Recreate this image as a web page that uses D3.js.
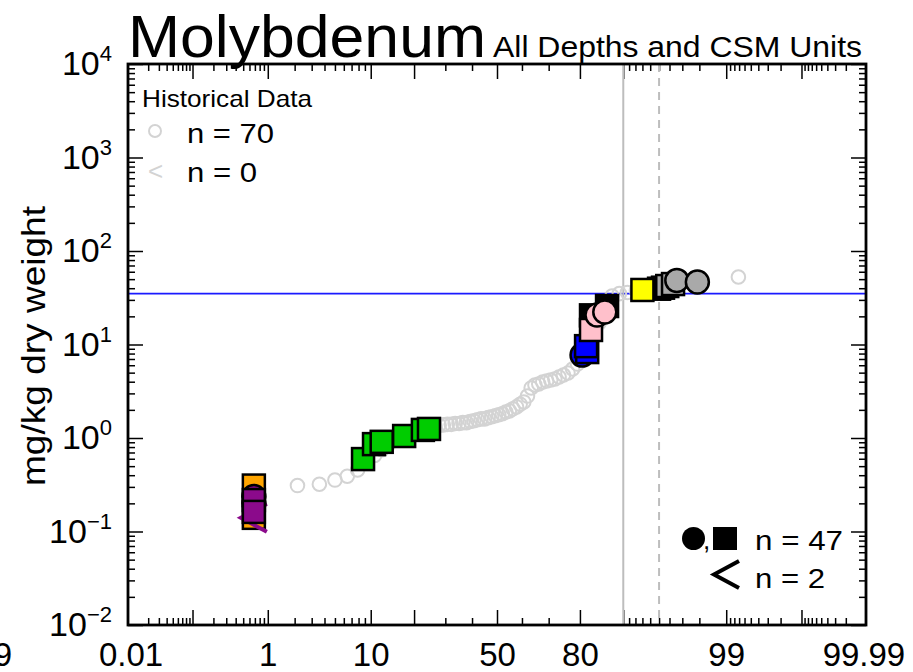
<!DOCTYPE html>
<meta charset="utf-8">
<style>
    body { margin: 0; background: #fff; }
    text { font-family: "Liberation Sans", Arial, Helvetica, sans-serif; }
    .axis path { display: none; }
    .axis line { stroke: #000; stroke-width: 1.5; }
</style>
<svg width="913" height="672"></svg>
<script src="https://cdn.jsdelivr.net/npm/d3@7"></script>
<script>

    // historical data, sorted (mg/kg), plotted at Hazen positions
    var histValues = [0.25, 0.31, 0.32, 0.355, 0.39, 0.455, 0.55, 0.65, 0.75, 0.85,
        0.95, 1.0, 1.05, 1.1, 1.15, 1.2, 1.25, 1.3, 1.34, 1.37,
        1.38, 1.40, 1.40, 1.43, 1.43, 1.46, 1.46, 1.50, 1.53, 1.57,
        1.6, 1.6, 1.65, 1.69, 1.73, 1.77, 1.82, 1.9, 1.95, 2.05,
        2.15, 2.3, 2.43, 2.81, 3.43, 3.69, 3.78, 3.97, 4.07, 4.17,
        4.27, 4.49, 4.72, 4.96, 5.47, 6.18, 7, 8, 12, 17,
        26, 33, 35, 36, 38, 40, 42, 44, 47, 52.7];

    // new samples: percentile, value, marker, colour
    var newPct    = [0.68, 0.68, 0.68, 0.68, 0.68, 0.68, 0.68,
                     8.7, 10.6, 12.1, 17.3, 22.6, 24.5,
                     80.6, 82.0, 81.7,
                     83.0, 86.8, 83.0, 84.5, 86.3,
                     95.0, 95.4, 93.0, 95.8, 96.3, 96.6, 97.9];
    var newValues = [0.31, 0.14, 0.14, 0.237, 0.20, 0.217, 0.162,
                     0.595, 0.86, 0.91, 1.05, 1.22, 1.25,
                     7.7, 8.3, 9.6,
                     20.5, 25.8, 14.3, 20.7, 22.3,
                     39.5, 40.5, 38.3, 42.2, 44.3, 48.5, 46.6];
    var newShape  = ["sq", "sq", "lt", "ci", "ci", "sq", "sq",
                     "sq", "sq", "sq", "sq", "sq", "sq",
                     "ci", "sq", "sq",
                     "sq", "sq", "sq", "ci", "ci",
                     "sq", "sq", "sq", "sq", "sq", "ci", "ci"];
    var newColor  = ["#FFA500", "#FFA500", "#8B0A8B", "#8B0A8B", "#8B0A8B", "#8B0A8B", "#8B0A8B",
                     "#00CC00", "#00CC00", "#00CC00", "#00CC00", "#00CC00", "#00CC00",
                     "#0000FF", "#0000FF", "#0000FF",
                     "#000000", "#000000", "#FFC0CB", "#FFC0CB", "#FFC0CB",
                     "#000000", "#000000", "#FFFF00", "#A9A9A9", "#A9A9A9", "#A9A9A9", "#A9A9A9"];

    var xLabelPct = [0.01, 1, 10, 50, 80, 99, 99.99];
    var xLabels   = ["0.01", "1", "10", "50", "80", "99", "99.99"];
    var xMajorPct = [0.1, 1, 10, 20, 50, 80, 90, 99, 99.9];
    var xMinorPct = [0.02, 0.03, 0.04, 0.05, 0.06, 0.07, 0.08, 0.09,
        0.2, 0.3, 0.4, 0.5, 0.6, 0.7, 0.8, 0.9,
        2, 3, 4, 5, 6, 7, 8, 9, 30, 40, 60, 70,
        91, 92, 93, 94, 95, 96, 97, 98,
        99.1, 99.2, 99.3, 99.4, 99.5, 99.6, 99.7, 99.8,
        99.91, 99.92, 99.93, 99.94, 99.95, 99.96, 99.97, 99.98];
    var yDecades = [1e-2, 1e-1, 1, 10, 100, 1000, 10000];
    var yExponents = ["\u22122", "\u22121", "0", "1", "2", "3", "4"];

    var guideline = 35;        // horizontal blue line
    var pctLines = [90, 95];   // solid, dashed

    // inverse normal CDF (Acklam)
    function qnorm(p) {
        var a = [-3.969683028665376e+01, 2.209460984245205e+02, -2.759285104469687e+02, 1.383577518672690e+02, -3.066479806614716e+01, 2.506628277459239e+00],
            b = [-5.447609879822406e+01, 1.615858368580409e+02, -1.556989798598866e+02, 6.680131188771972e+01, -1.328068155288572e+01],
            c = [-7.784894002430293e-03, -3.223964580411365e-01, -2.400758277161838e+00, -2.549732539343734e+00, 4.374664141464968e+00, 2.938163982698783e+00],
            d = [7.784695709041462e-03, 3.224671290700398e-01, 2.445134137142996e+00, 3.754408661907416e+00];
        var pl = 0.02425, q, r;
        if (p < pl) {
            q = Math.sqrt(-2 * Math.log(p));
            return (((((c[0]*q+c[1])*q+c[2])*q+c[3])*q+c[4])*q+c[5]) / ((((d[0]*q+d[1])*q+d[2])*q+d[3])*q+1);
        }
        if (p > 1 - pl) {
            q = Math.sqrt(-2 * Math.log(1 - p));
            return -(((((c[0]*q+c[1])*q+c[2])*q+c[3])*q+c[4])*q+c[5]) / ((((d[0]*q+d[1])*q+d[2])*q+d[3])*q+1);
        }
        q = p - 0.5; r = q * q;
        return (((((a[0]*r+a[1])*r+a[2])*r+a[3])*r+a[4])*r+a[5])*q / (((((b[0]*r+b[1])*r+b[2])*r+b[3])*r+b[4])*r+1);
    }

    var svg = d3.select("svg"),
        pLeft = 128, pRight = 866, pTop = 64, pBottom = 625;

    var x = d3.scaleLinear().domain([-3.745, 3.745]).range([pLeft, pRight]);
    var y = d3.scaleLog().domain([1e-2, 1e4]).range([pBottom, pTop]);
    function z(pct) { return qnorm(pct / 100); }

    // ticks on all four sides, pointing inward
    function ticks(axisFn, vals, size, tx, ty) {
        svg.append("g").attr("class", "axis")
            .attr("transform", "translate(" + tx + "," + ty + ")")
            .call(axisFn.tickValues(vals).tickSizeInner(-size).tickSizeOuter(0).tickFormat(""));
    }
    var zMaj = xMajorPct.map(z), zMin = xMinorPct.map(z);
    ticks(d3.axisBottom(x), zMaj, 15, 0, pBottom);
    ticks(d3.axisBottom(x), zMin, 7, 0, pBottom);
    ticks(d3.axisTop(x), zMaj, 15, 0, pTop);
    ticks(d3.axisTop(x), zMin, 7, 0, pTop);

    var yMinor = [];
    yDecades.slice(0, -1).forEach(function(dv) { for (var k = 2; k <= 9; k++) yMinor.push(dv * k); });
    ticks(d3.axisLeft(y), yDecades, 15, pLeft, 0);
    ticks(d3.axisLeft(y), yMinor, 7, pLeft, 0);
    ticks(d3.axisRight(y), yDecades, 15, pRight, 0);
    ticks(d3.axisRight(y), yMinor, 7, pRight, 0);

    // x labels
    var gxl = svg.append("g").attr("class", "axis")
        .attr("transform", "translate(0," + pBottom + ")")
        .call(d3.axisBottom(x).tickValues(xLabelPct.map(z)).tickSize(0).tickPadding(18)
            .tickFormat(function(d, i) { return xLabels[i]; }));
    gxl.attr("font-family", null).attr("font-size", null);
    gxl.selectAll("text").attr("font-size", 33).attr("fill", "#000");

    // clipped label at the far left edge
    svg.append("text").attr("x", 12).attr("y", 666).attr("text-anchor", "end")
        .attr("font-size", 33).text("99.99");

    // y labels 10^n
    var gyl = svg.append("g").attr("class", "axis")
        .attr("transform", "translate(" + pLeft + ",0)")
        .call(d3.axisLeft(y).tickValues(yDecades).tickSize(0).tickPadding(16).tickFormat(""));
    gyl.attr("font-family", null).attr("font-size", null);
    gyl.selectAll("text").attr("font-size", 34).attr("fill", "#000").each(function(d, i) {
        var t = d3.select(this);
        t.append("tspan").text("10");
        t.append("tspan").attr("dy", -14).attr("font-size", 22).text(yExponents[i]);
    });

    // reference lines
    svg.append("line").attr("x1", pLeft).attr("x2", pRight)
        .attr("y1", y(guideline)).attr("y2", y(guideline))
        .attr("stroke", "#1a1aff").attr("stroke-width", 1.6);
    svg.append("line").attr("x1", x(z(pctLines[0]))).attr("x2", x(z(pctLines[0])))
        .attr("y1", pTop).attr("y2", pBottom).attr("stroke", "#bdbdbd").attr("stroke-width", 2);
    svg.append("line").attr("x1", x(z(pctLines[1]))).attr("x2", x(z(pctLines[1])))
        .attr("y1", pTop).attr("y2", pBottom).attr("stroke", "#bdbdbd").attr("stroke-width", 2)
        .attr("stroke-dasharray", "8,6");

    // historical points
    var nh = histValues.length;
    svg.append("g").selectAll("circle")
        .data(histValues)
        .enter().append("circle")
        .attr("cx", function(d, i) { return x(qnorm((i + 0.5) / nh)); })
        .attr("cy", function(d) { return y(d); })
        .attr("r", 6.8)
        .attr("fill", "none")
        .attr("stroke", "#d3d3d3")
        .attr("stroke-width", 2);

    // new samples
    var pts = svg.append("g");
    newValues.forEach(function(v, i) {
        var cx = x(z(newPct[i])), cy = y(v), s = newShape[i], col = newColor[i];
        if (s === "sq") {
            pts.append("rect").attr("x", cx - 11).attr("y", cy - 11).attr("width", 22).attr("height", 22)
                .attr("fill", col).attr("stroke", "#000").attr("stroke-width", 2.5);
        } else if (s === "ci") {
            pts.append("circle").attr("cx", cx).attr("cy", cy).attr("r", 11.5)
                .attr("fill", col).attr("stroke", "#000").attr("stroke-width", 2.5);
        } else {
            pts.append("path").attr("d", "M" + (cx + 13) + "," + (cy - 14) + "L" + (cx - 13) + "," + cy + "L" + (cx + 13) + "," + (cy + 14))
                .attr("fill", "none").attr("stroke", col).attr("stroke-width", 4);
        }
    });

    // frame
    svg.append("rect").attr("x", pLeft).attr("y", pTop)
        .attr("width", pRight - pLeft).attr("height", pBottom - pTop)
        .attr("fill", "none").attr("stroke", "#000").attr("stroke-width", 2.8);

    // titles
    svg.append("text").attr("x", 128).attr("y", 57).attr("font-size", 60)
        .attr("textLength", 358).attr("lengthAdjust", "spacingAndGlyphs").text("Molybdenum");
    svg.append("text").attr("x", 493).attr("y", 57).attr("font-size", 30)
        .attr("textLength", 369).attr("lengthAdjust", "spacingAndGlyphs").text("All Depths and CSM Units");
    svg.append("text").attr("transform", "translate(45,346)rotate(-90)")
        .attr("text-anchor", "middle").attr("font-size", 33)
        .attr("textLength", 280).attr("lengthAdjust", "spacingAndGlyphs").text("mg/kg dry weight");

    // legend, historical
    svg.append("text").attr("x", 142).attr("y", 107).attr("font-size", 24)
        .attr("textLength", 170).attr("lengthAdjust", "spacingAndGlyphs").text("Historical Data");
    svg.append("circle").attr("cx", 155).attr("cy", 131).attr("r", 6)
        .attr("fill", "none").attr("stroke", "#d3d3d3").attr("stroke-width", 2);
    svg.append("text").attr("x", 148).attr("y", 180).attr("font-size", 26).attr("fill", "#d3d3d3").text("<");
    svg.append("text").attr("x", 187).attr("y", 143).attr("font-size", 27)
        .attr("textLength", 87).attr("lengthAdjust", "spacingAndGlyphs").text("n = " + nh);
    svg.append("text").attr("x", 187).attr("y", 182).attr("font-size", 27)
        .attr("textLength", 70).attr("lengthAdjust", "spacingAndGlyphs").text("n = 0");

    // legend, new samples
    svg.append("circle").attr("cx", 693.5).attr("cy", 538.5).attr("r", 11.5).attr("fill", "#000");
    svg.append("text").attr("x", 703).attr("y", 549).attr("font-size", 26).text(",");
    svg.append("rect").attr("x", 713).attr("y", 527).attr("width", 24).attr("height", 23).attr("fill", "#000");
    svg.append("text").attr("x", 755).attr("y", 550).attr("font-size", 27)
        .attr("textLength", 88).attr("lengthAdjust", "spacingAndGlyphs").text("n = 47");
    svg.append("path").attr("d", "M739,561L714,574.5L739,588")
        .attr("fill", "none").attr("stroke", "#000").attr("stroke-width", 4);
    svg.append("text").attr("x", 755).attr("y", 588).attr("font-size", 27)
        .attr("textLength", 70).attr("lengthAdjust", "spacingAndGlyphs").text("n = 2");

</script>
